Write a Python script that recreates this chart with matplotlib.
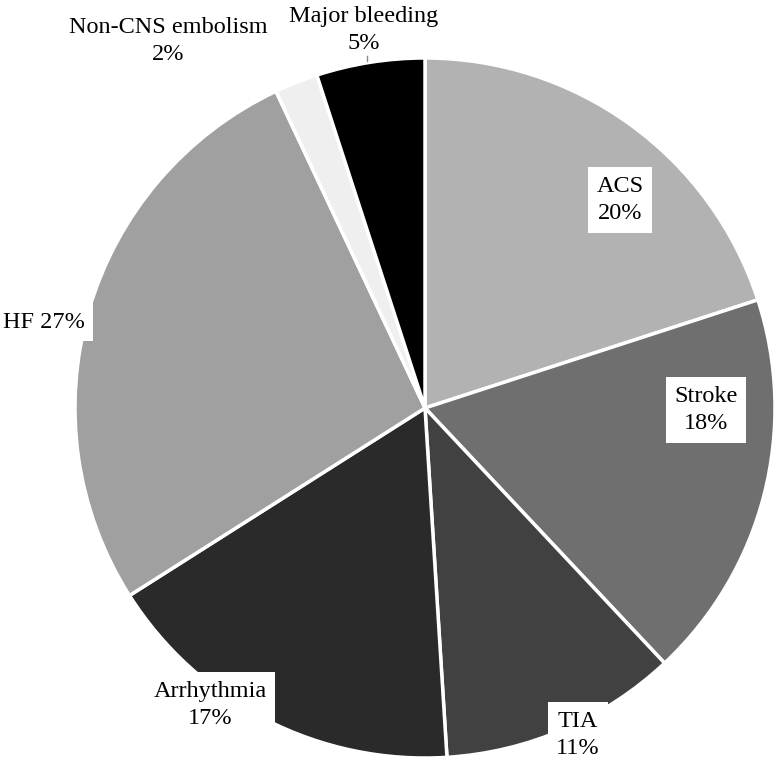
import matplotlib
matplotlib.use("Agg")
import matplotlib.pyplot as plt

categories = ["ACS", "Stroke", "TIA", "Arrhythmia", "HF", "Non-CNS embolism", "Major bleeding"]
values = [20, 18, 11, 17, 27, 2, 5]
label_texts = ["ACS\n20%", "Stroke\n18%", "TIA\n11%", "Arrhythmia\n17%", "HF 27%",
               "Non-CNS embolism\n2%", "Major bleeding\n5%"]
colors = ["#b2b2b2", "#6f6f6f", "#414141", "#2a2a2a", "#a0a0a0", "#efefef", "#000000"]

W, H = 778, 765
fig = plt.figure(figsize=(W / 100, H / 100), dpi=100)
cx, cy, r = 425, 408, 350
ax = fig.add_axes([(cx - r) / W, (H - cy - r) / H, 2 * r / W, 2 * r / H])
ax.pie(values, colors=colors, startangle=90, counterclock=False,
       wedgeprops=dict(edgecolor="white", linewidth=2.5))
ax.set_xlim(-1, 1)
ax.set_ylim(-1, 1)
ax.set_aspect("equal")
ax.axis("off")

# label positions in pixels (layout)
label_px = [(620, 200), (706, 410), (578, 735), (210, 705), (44, 322), (168, 41), (364, 30)]
boxed = [True, True, True, True, True, False, False]
for txt, (px, py), b in zip(label_texts, label_px, boxed):
    x = (px - cx) / r
    y = (cy - py) / r
    kw = {}
    if b:
        kw["bbox"] = dict(boxstyle="square,pad=0.35", facecolor="white", edgecolor="none")
    ax.text(x, y, txt, ha="center", va="center", fontsize=17.5,
            family="Liberation Serif", linespacing=1.4, clip_on=False, **kw)

# short leader line under "Major bleeding 5%"
ax.plot([(367 - cx) / r, (367 - cx) / r], [(cy - 56) / r, (cy - 61) / r],
        color="#888888", lw=1, clip_on=False)

fig.savefig("out.png", dpi=100, facecolor="white")
